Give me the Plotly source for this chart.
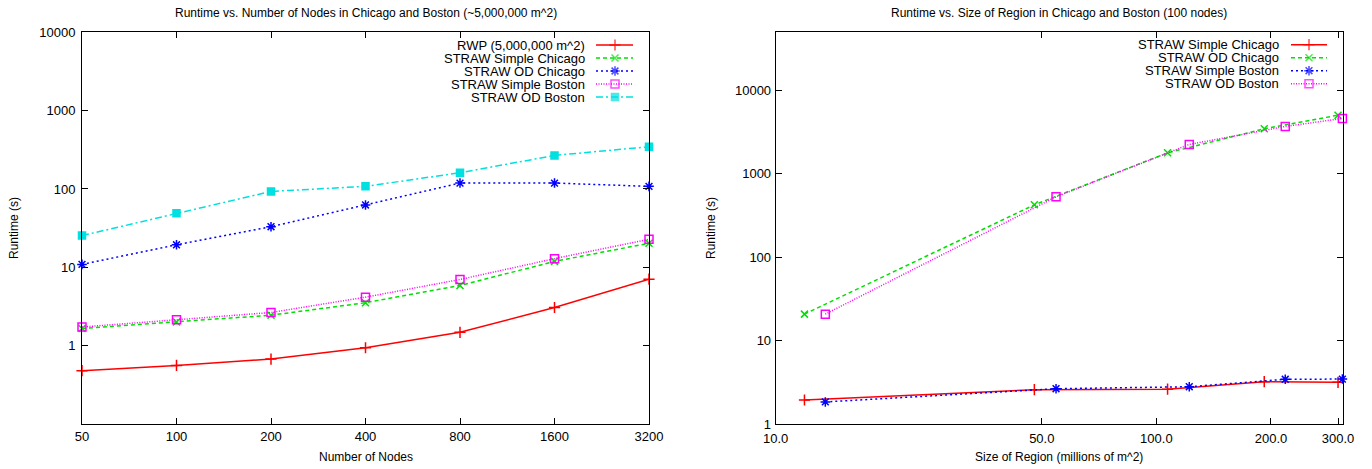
import math
import plotly.graph_objects as go

# ---------------- data ----------------
nodes = [50, 100, 200, 400, 800, 1600, 3200]
node_ticks = ["50", "100", "200", "400", "800", "1600", "3200"]
rwp_nodes = [0.48, 0.56, 0.675, 0.94, 1.48, 3.07, 7.05]
simple_chi_nodes = [1.66, 2.0, 2.45, 3.53, 5.86, 11.9, 20.3]
od_chi_nodes = [10.9, 19.4, 33, 62.5, 119, 119, 108]
simple_bos_nodes = [1.73, 2.14, 2.65, 4.16, 7.0, 12.9, 22.8]
od_bos_nodes = [25.4, 49, 93, 108, 161, 268, 346]

chi_size = [11.9, 47.8, 107, 192, 300]
bos_size = [13.5, 54.5, 122, 218, 308]
simple_chi_size = [1.94, 2.58, 2.62, 3.22, 3.16]
od_chi_size = [20.8, 426, 1791, 3475, 5070]
simple_bos_size = [1.84, 2.65, 2.8, 3.44, 3.46]
od_bos_size = [20.8, 531, 2258, 3710, 4630]

size_tickvals = [10, 50, 100, 200, 300]
size_ticktext = ["10.0", "50.0", "100.0", "200.0", "300.0"]
runtime_tickvals = [1, 10, 100, 1000, 10000]
runtime_ticktext = ["1", "10", "100", "1000", "10000"]

# ---------------- styles ----------------
W, H = 1372, 469
FONT = "Liberation Sans, Arial, Helvetica, sans-serif"
RED, GREEN, BLUE, MAG, CYAN = "#ff0000", "#00e000", "#0000ff", "#ff00ff", "#00e0e0"

sty = {
    "red": dict(color=RED, dash="solid", symbol="cross-thin-open", msize=8),
    "green": dict(color=GREEN, dash="4px,3px", symbol="x-thin-open", msize=7),
    "blue": dict(color=BLUE, dash="2px,3px", symbol="asterisk-open", msize=8),
    "mag": dict(color=MAG, dash="1px,1.5px", symbol="square-open", msize=8),
    "cyan": dict(color=CYAN, dash="7px,3px,2px,3px", symbol="square", msize=7),
}

fig = go.Figure()


def add_series(x, y, s, xa, ya, name):
    st = sty[s]
    fig.add_trace(go.Scatter(
        x=x, y=y, name=name, mode="lines+markers", xaxis=xa, yaxis=ya,
        line=dict(color=st["color"], width=1.5, dash=st["dash"]),
        marker=dict(symbol=st["symbol"], size=st["msize"], color=st["color"],
                    line=dict(color=st["color"], width=1.5)),
        cliponaxis=False, showlegend=False))


left_series = [
    ("RWP (5,000,000 m^2)", rwp_nodes, "red"),
    ("STRAW Simple Chicago", simple_chi_nodes, "green"),
    ("STRAW OD Chicago", od_chi_nodes, "blue"),
    ("STRAW Simple Boston", simple_bos_nodes, "mag"),
    ("STRAW OD Boston", od_bos_nodes, "cyan"),
]
for name, vals, s in left_series:
    add_series(nodes, vals, s, "x", "y", name)

right_series = [
    ("STRAW Simple Chicago", chi_size, simple_chi_size, "red"),
    ("STRAW OD Chicago", chi_size, od_chi_size, "green"),
    ("STRAW Simple Boston", bos_size, simple_bos_size, "blue"),
    ("STRAW OD Boston", bos_size, od_bos_size, "mag"),
]
for name, xs, vals, s in right_series:
    add_series(xs, vals, s, "x2", "y2", name)

# ---------------- layout geometry (pixels) ----------------
L1, R1 = 82, 649
L2, R2 = 775.7, 1342.7
TOP, BOT = 32.3, 424
EPS = 1e-7  # tiny pad so edge points are not treated as out of range


def fx(p):
    return p / W


def fy(p):
    return (H - p) / H


tickfont = dict(family=FONT, size=13, color="black")
common_axis = dict(type="log", showgrid=False, zeroline=False, showline=True,
                   linecolor="black", linewidth=1, mirror="allticks",
                   ticks="inside", ticklen=6, tickcolor="black", tickwidth=1,
                   tickfont=tickfont, fixedrange=True, automargin=False)

fig.update_layout(
    template="none",
    width=W, height=H, margin=dict(l=0, r=0, t=0, b=0, pad=0, autoexpand=False),
    paper_bgcolor="white", plot_bgcolor="rgba(0,0,0,0)",
    font=dict(family=FONT, color="black"),
    xaxis=dict(common_axis, domain=[fx(L1), fx(R1)], anchor="y",
               range=[math.log10(nodes[0]) - EPS, math.log10(nodes[-1]) + EPS],
               tickvals=nodes, ticktext=node_ticks, ticklabelstandoff=0),
    yaxis=dict(common_axis, domain=[fy(BOT), fy(TOP)], anchor="x",
               range=[-1, 4], tickvals=runtime_tickvals, ticktext=runtime_ticktext,
               ticklabelstandoff=3),
    xaxis2=dict(common_axis, domain=[fx(L2), fx(R2)], anchor="y2",
                range=[1 - EPS, math.log10(308.6)], tickvals=size_tickvals,
                ticktext=size_ticktext, ticklabelstandoff=2),
    yaxis2=dict(common_axis, domain=[fy(BOT), fy(TOP)], anchor="x2",
                range=[0, math.log10(50000)], tickvals=runtime_tickvals,
                ticktext=runtime_ticktext, ticklabelstandoff=1),
    # helper pixel-space axes for titles and the gnuplot-style keys
    xaxis3=dict(domain=[0, 1], range=[0, W], visible=False, fixedrange=True,
                anchor="y3", automargin=False),
    yaxis3=dict(domain=[0, 1], range=[H, 0], visible=False, fixedrange=True,
                anchor="x3", automargin=False),
)

annots = []


def text(x, y, s, size=12, xanchor="center", angle=0):
    annots.append(dict(x=x, y=y, xref="x3", yref="y3", text=s, showarrow=False,
                       xanchor=xanchor, yanchor="middle", textangle=angle,
                       font=dict(family=FONT, size=size, color="black")))


text((L1 + R1) / 2, 13, "Runtime vs. Number of Nodes in Chicago and Boston (~5,000,000 m^2)")
text((L2 + R2) / 2, 13, "Runtime vs. Size of Region in Chicago and Boston (100 nodes)")
text((L1 + R1) / 2, 457, "Number of Nodes")
text((L2 + R2) / 2, 457, "Size of Region (millions of m^2)")
text(14, 228, "Runtime (s)", angle=-90)
text(711, 228, "Runtime (s)", angle=-90)


def key(names_styles, text_right, x0, x1, xm, y0, step):
    for i, (name, s) in enumerate(names_styles):
        y = y0 + step * i
        text(text_right, y, name, size=13, xanchor="right")
        st = sty[s]
        fig.add_trace(go.Scatter(
            x=[x0, xm, x1], y=[y, y, y], mode="lines+markers", xaxis="x3", yaxis="y3",
            line=dict(color=st["color"], width=1.5, dash=st["dash"]),
            marker=dict(symbol=st["symbol"], size=[0, st["msize"], 0], color=st["color"],
                        line=dict(color=st["color"], width=1.5)),
            showlegend=False, hoverinfo="skip", cliponaxis=False))


key([(n, s) for n, _, s in left_series], 587, 596, 633, 615, 45, 13)
key([(n, s) for n, _, _, s in right_series], 1281, 1291, 1327, 1309, 44.7, 13)

fig.update_layout(annotations=annots)

fig.write_html("out.html", config={"displayModeBar": False},
               post_script="document.body.style.margin='0';document.body.style.overflow='hidden';")
